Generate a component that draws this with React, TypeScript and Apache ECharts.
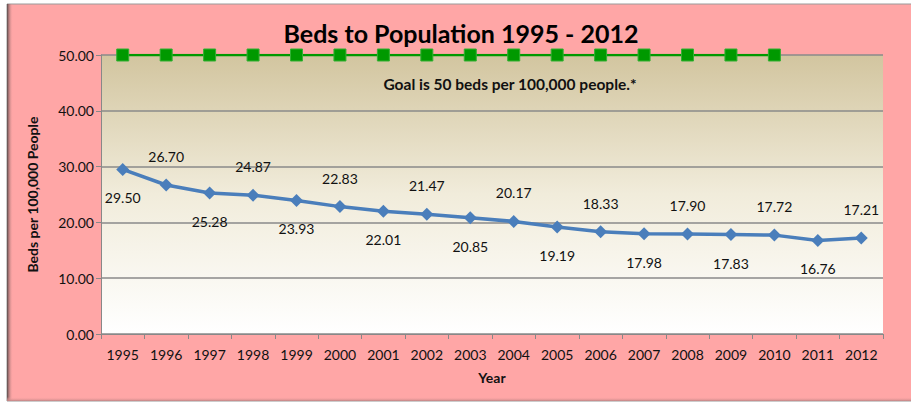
import React, { useEffect, useRef } from "react";
import * as echarts from "echarts";

const years = ["1995","1996","1997","1998","1999","2000","2001","2002","2003","2004","2005","2006","2007","2008","2009","2010","2011","2012"];
const beds = [29.5, 26.7, 25.28, 24.87, 23.93, 22.83, 22.01, 21.47, 20.85, 20.17, 19.19, 18.33, 17.98, 17.9, 17.83, 17.72, 16.76, 17.21];
const goal = [50, 50, 50, 50, 50, 50, 50, 50, 50, 50, 50, 50, 50, 50, 50, 50];
const titleText = "Beds to Population 1995 - 2012";
const goalNote = "Goal is 50 beds per 100,000 people.*";

const FONT = "Lato, 'Open Sans', sans-serif";

export default function App() {
  const ref = useRef<HTMLDivElement>(null);
  useEffect(() => {
    if (!ref.current) return;
    const chart = echarts.init(ref.current, undefined, { renderer: "svg" });
    chart.setOption({
      animation: false,
      backgroundColor: "#ffffff",
      textStyle: { fontFamily: FONT },
      graphic: [
        {
          type: "rect",
          shape: { x: 7, y: 4, width: 910, height: 397 },
          style: { fill: "#ffa6a6", stroke: "#9a9a9a", lineWidth: 1 },
          z: -10,
        },
        {
          type: "rect",
          shape: { x: 7, y: 4, width: 6, height: 397 },
          style: {
            fill: new echarts.graphic.LinearGradient(0, 0, 1, 0, [
              { offset: 0, color: "#5a4a4a" },
              { offset: 1, color: "rgba(255,166,166,0)" },
            ]),
          },
          z: -9,
        },
        {
          type: "rect",
          shape: { x: 7, y: 397, width: 904, height: 4 },
          style: {
            fill: new echarts.graphic.LinearGradient(0, 0, 0, 1, [
              { offset: 0, color: "rgba(255,166,166,0)" },
              { offset: 1, color: "#c48686" },
            ]),
          },
          z: -9,
        },
        {
          type: "text",
          x: 461,
          y: 33,
          style: {
            text: titleText,
            font: `bold 25px ${FONT}`,
            fill: "#000000",
            align: "center",
            verticalAlign: "middle",
          },
          z: 10,
        },
        {
          type: "text",
          x: 510,
          y: 84,
          style: {
            text: goalNote,
            font: `bold 15.5px ${FONT}`,
            fill: "#111111",
            align: "center",
            verticalAlign: "middle",
          },
          z: 10,
        },
      ],
      grid: {
        left: 101,
        top: 55,
        right: 28,
        bottom: 70,
        show: true,
        borderWidth: 0,
        backgroundColor: new echarts.graphic.LinearGradient(0, 0, 0, 1, [
          { offset: 0, color: "#d2c59f" },
          { offset: 0.5, color: "#f1ecdb" },
          { offset: 1, color: "#ffffff" },
        ]),
      },
      xAxis: {
        type: "category",
        data: years,
        boundaryGap: true,
        name: "Year",
        nameLocation: "middle",
        nameGap: 36,
        nameTextStyle: { fontWeight: "bold", fontSize: 14, color: "#111", fontFamily: FONT },
        axisLine: { lineStyle: { color: "#888888", width: 1 } },
        axisTick: { show: true, length: 5, alignWithLabel: false, lineStyle: { color: "#888888" } },
        axisLabel: { color: "#111", fontSize: 14, margin: 13, fontFamily: FONT },
        splitLine: { show: false },
      },
      yAxis: {
        type: "value",
        min: 0,
        max: 50,
        interval: 10,
        name: "Beds per 100,000 People",
        nameLocation: "middle",
        nameGap: 62,
        nameTextStyle: { fontWeight: "bold", fontSize: 14, color: "#111", fontFamily: FONT },
        axisLine: { show: true, lineStyle: { color: "#888888", width: 1 } },
        axisTick: { show: true, length: 5, lineStyle: { color: "#888888" } },
        axisLabel: {
          color: "#111",
          fontSize: 14,
          margin: 7,
          fontFamily: FONT,
          formatter: (v: number) => v.toFixed(2),
        },
        splitLine: { show: true, lineStyle: { color: "#8a8a8a", width: 1.5 } },
      },
      series: [
        {
          type: "line",
          name: "Goal",
          data: goal,
          symbol: "rect",
          symbolSize: 12,
          itemStyle: { color: "#009900", borderColor: "#33b033", borderWidth: 1 },
          lineStyle: { color: "#009900", width: 2.5 },
          z: 5,
        },
        {
          type: "line",
          name: "Beds",
          data: beds.map((v, i) => ({
            value: v,
            label: { position: i % 2 === 0 ? "bottom" : "top" },
          })),
          symbol: "diamond",
          symbolSize: 13,
          itemStyle: { color: "#4a7ebb" },
          lineStyle: { color: "#4a7ebb", width: 3.5 },
          label: {
            show: true,
            distance: 15,
            fontSize: 14,
            color: "#111",
            fontFamily: FONT,
            formatter: (p: any) => Number(p.value).toFixed(2),
          },
          z: 6,
        },
      ],
    });
    return () => chart.dispose();
  }, []);
  return (
    <div
      ref={ref}
      style={{ position: "fixed", left: 0, top: 0, width: 911, height: 404 }}
    />
  );
}
